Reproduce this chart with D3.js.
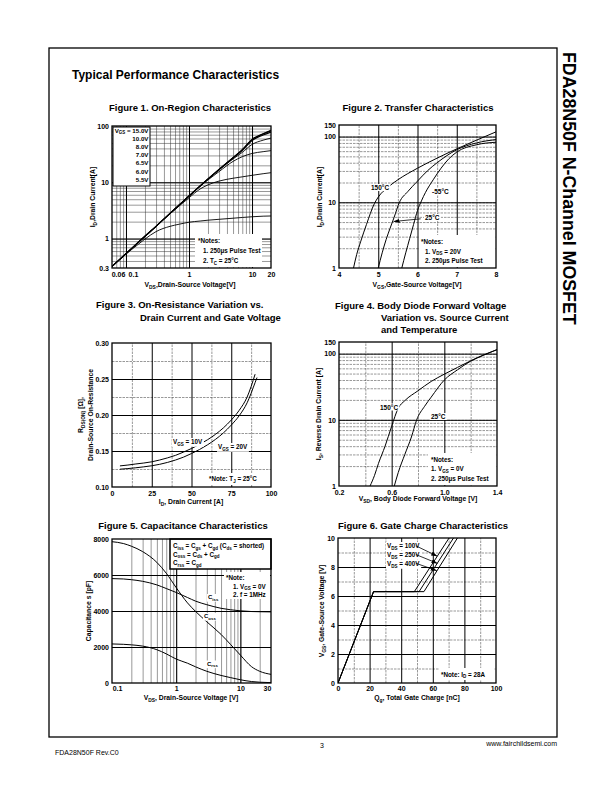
<!DOCTYPE html>
<html><head><meta charset="utf-8">
<script src="https://cdn.jsdelivr.net/npm/d3@7"></script>
<style>body{margin:0;background:#fff} svg{display:block}</style>
</head><body><svg id="c" width="612" height="792"></svg>
<script>
// ================= DATA =================
// Figure 1 – On-Region Characteristics (log-log)
const fig1Vds   = [0.06,0.1,0.15,0.2,0.3,0.5,0.7,1,1.5,2,3,5,7,10,15,20];
const fig1Id15  = [0.32,0.54,0.82,1.1,1.65,2.8,3.95,5.7,8.6,11.5,17,27.5,38,58,73,84];
const fig1Id10  = [0.32,0.54,0.82,1.1,1.65,2.8,3.95,5.7,8.6,11.5,17,27.3,37.5,57,72,82];
const fig1Id8   = [0.32,0.54,0.82,1.1,1.65,2.8,3.95,5.7,8.6,11.4,16.8,27,37,55,69,78];
const fig1Id7   = [0.32,0.54,0.82,1.1,1.65,2.8,3.95,5.7,8.6,11.4,16.6,26,34,47,56,61];
const fig1Id65  = [0.32,0.54,0.82,1.1,1.65,2.8,3.95,5.7,8.5,11.0,15.5,23.5,28.5,32.5,35,36.5];
const fig1Id6   = [0.32,0.54,0.82,1.1,1.65,2.75,3.8,5.3,7.6,9.0,10.5,11.8,12.5,13.3,14.2,14.8];
const fig1Id55  = [0.32,0.53,0.76,0.98,1.33,1.65,1.8,1.95,2.05,2.12,2.2,2.3,2.37,2.44,2.5,2.52];
const fig1Legend = ["15.0V","10.0V","8.0V","7.0V","6.5V","6.0V","5.5V"];
const fig1XTicks = [0.06,0.1,1,10,20];
const fig1YTicks = [0.3,1,10,100];

// Figure 2 – Transfer Characteristics
const fig2Vgs150 = [4.37,4.45,4.55,4.7,4.9,5.0,5.25,5.5,6,6.5,7,7.5,8];
const fig2Id150  = [1,1.6,2.5,4.6,9.5,12,17,22,33,47,65,88,118];
const fig2Vgs25  = [5.0,5.1,5.2,5.3,5.4,5.54,5.75,6,6.25,6.5,7,7.5,8];
const fig2Id25   = [1,1.7,2.7,4,5.8,10,14.5,21,30,40,63,80,90];
const fig2VgsM55 = [5.6,5.7,5.8,5.9,6.0,6.1,6.2,6.4,6.6,6.8,7.0,7.5,8];
const fig2IdM55  = [1,1.7,2.8,4.6,7.5,10.5,14,22,33,46,58,75,82];
const fig2XTicks = [4,5,6,7,8];
const fig2YTicks = [1,10,100,150];

// Figure 3 – On-Resistance vs Drain Current
const fig3Id10 = [5,10,15,20,25,30,35,40,45,50,55,60,65,70,75,80,85,90];
const fig3R10  = [0.1293,0.1305,0.132,0.1333,0.135,0.1375,0.1405,0.144,0.1485,0.1535,0.159,0.1655,0.173,0.182,0.193,0.2065,0.225,0.2567];
const fig3Id20 = [5,10,15,20,25,30,35,40,45,50,55,60,65,70,75,80,85,90,91.2];
const fig3R20  = [0.1247,0.1256,0.1267,0.128,0.1295,0.1315,0.1342,0.1375,0.1415,0.1465,0.152,0.1585,0.166,0.175,0.186,0.199,0.217,0.245,0.252];
const fig3XTicks = [0,25,50,75,100];
const fig3YTicks = [0.10,0.15,0.20,0.25,0.30];

// Figure 4 – Body Diode Forward Voltage
const fig4Vsd150 = [0.436,0.47,0.5,0.55,0.6,0.65,0.7,0.8,0.9,1.0,1.1,1.2,1.3,1.4];
const fig4Is150  = [1,1.45,2.2,4,8,15,19.5,27.5,38,49,62,78,96,115];
const fig4Vsd25  = [0.62,0.65,0.7,0.75,0.79,0.85,0.9,1.0,1.1,1.2,1.3,1.4];
const fig4Is25   = [1,1.6,3,5.5,10,16,22,40,57,77,95,115];
const fig4XTicks = [0.2,0.6,1.0,1.4];
const fig4YTicks = [1,10,100,150];

// Figure 5 – Capacitance Characteristics
const fig5Vds  = [0.1,0.15,0.2,0.3,0.5,0.7,1,1.5,2,3,5,7,10,15,20,30];
const fig5Ciss = [5800,5780,5740,5650,5450,5250,5030,4750,4550,4350,4150,4070,4010,3970,3960,3950];
const fig5Coss = [7850,7750,7600,7300,6700,6100,5300,4450,3980,3400,2700,2150,1550,900,650,480];
const fig5Crss = [2170,2150,2120,2050,1850,1620,1330,1100,900,650,420,300,180,80,45,20];
const fig5XTicks = [0.1,1,10,30];
const fig5YTicks = [0,2000,4000,6000,8000];

// Figure 6 – Gate Charge Characteristics
const fig6Qg100 = [0,22.5,48.3,70.3];
const fig6Qg250 = [0,22.5,51.3,73.1];
const fig6Qg400 = [0,22.5,54.4,75.6];
const fig6Vgs   = [0,6.3,6.3,10];
const fig6XTicks = [0,20,40,60,80,100];
const fig6YTicks = [0,2,4,6,8,10];

// ================= DRAWING =================
const FONT = '"Liberation Sans", Arial, Helvetica, sans-serif';
const svg = d3.select('#c');
const defs = svg.append('defs');
defs.append('marker').attr('id','arr').attr('viewBox','0 0 10 10')
  .attr('refX',10).attr('refY',5).attr('markerWidth',6).attr('markerHeight',6)
  .attr('markerUnits','userSpaceOnUse').attr('orient','auto')
  .append('path').attr('d','M0,1.5L10,5L0,8.5z').attr('fill','#000');

const zip = (a,b) => a.map((v,i)=>[v,b[i]]);
const logMinor = (lo, hi) => {
  const out=[]; for (let e=-3;e<=3;e++) for (let m=1;m<10;m++){const v=m*Math.pow(10,e); if(v>lo*1.0001 && v<hi*0.9999) out.push(+v.toPrecision(3));}
  return out;
};

function rich(t, str, fs) {
  const parts = str.split(/(_\{[^}]*\})/).filter(s=>s.length);
  let prevSub=false;
  parts.forEach(p=>{
    const isSub = p.startsWith('_{');
    const s = t.append('tspan').text(isSub ? p.slice(2,-1) : p);
    if (isSub) { s.attr('font-size', fs*0.72).attr('dy', fs*0.28); prevSub=true; }
    else if (prevSub) { s.attr('dy', -fs*0.28); prevSub=false; }
  });
  return t;
}
function txt(g, x, y, str, fs, o={}) {
  const t = g.append('text').attr('x',x).attr('y',y).attr('font-size',fs)
    .attr('font-family',FONT).attr('font-weight', o.weight||'bold')
    .attr('text-anchor', o.anchor||'start').attr('fill','#000');
  if (o.rotate) t.attr('transform',`rotate(${o.rotate},${x},${y})`);
  rich(t, str, fs);
  if (o.bg) {
    const b = t.node().getBBox();
    g.insert('rect', () => t.node()).attr('x',b.x-1).attr('y',b.y).attr('width',b.width+2).attr('height',b.height).attr('fill','#fff');
  }
  return t;
}

function chart(box, xs, ys, id) {
  const g = svg.append('g');
  const x = xs.range([box.l, box.r]);
  const y = ys.range([box.b, box.t]);
  defs.append('clipPath').attr('id',id).append('rect')
    .attr('x',box.l).attr('y',box.t).attr('width',box.r-box.l).attr('height',box.b-box.t);
  return {g,x,y,box,id};
}
function grid(c, xv, yv, w, dash, col) {
  const {g,x,y,box} = c;
  const style = a => { a.select('.domain').remove();
    a.selectAll('line').attr('stroke',col||'#000').attr('stroke-width',w).attr('stroke-dasharray',dash||null); };
  if (xv && xv.length) {
    style(g.append('g').attr('transform',`translate(0,${box.b})`)
      .call(d3.axisBottom(x).tickValues(xv).tickSize(-(box.b-box.t)).tickFormat('')));
  }
  if (yv && yv.length) {
    style(g.append('g').attr('transform',`translate(${box.l},0)`)
      .call(d3.axisLeft(y).tickValues(yv).tickSize(-(box.r-box.l)).tickFormat('')));
  }
}
function frame(c) {
  const {g,box}=c;
  g.append('rect').attr('x',box.l).attr('y',box.t).attr('width',box.r-box.l).attr('height',box.b-box.t)
    .attr('fill','none').attr('stroke','#000').attr('stroke-width',1.3);
}
function ticks(c, xv, xf, yv, yf, xpad=4, xShift={}) {
  const {g,x,y,box}=c;
  const ax = g.append('g').attr('transform',`translate(0,${box.b})`)
    .call(d3.axisBottom(x).tickValues(xv).tickSize(0).tickPadding(xpad).tickFormat(xf));
  ax.select('.domain').remove();
  ax.attr('font-size',7).attr('font-family',FONT).attr('font-weight','bold');
  ax.selectAll('text').attr('fill','#000').attr('dx', d => xShift[d] || 0);
  const ay = g.append('g').attr('transform',`translate(${box.l},0)`)
    .call(d3.axisLeft(y).tickValues(yv).tickSize(0).tickPadding(3).tickFormat(yf));
  ay.select('.domain').remove();
  ay.attr('font-size',7).attr('font-family',FONT).attr('font-weight','bold');
  ay.selectAll('text').attr('fill','#000');
}
function curve(c, pts, w=1, interp=d3.curveMonotoneX) {
  const {g,x,y,id}=c;
  g.append('path').attr('d', d3.line().x(d=>x(d[0])).y(d=>y(d[1])).curve(interp)(pts))
    .attr('fill','none').attr('stroke','#000').attr('stroke-width',w).attr('clip-path',`url(#${id})`);
}
function notes(g, x0, y0, x1, y1, lines) {
  g.append('rect').attr('x',x0).attr('y',y0).attr('width',x1-x0).attr('height',y1-y0).attr('fill','#fff');
  lines.forEach(l => txt(g, l[0], l[1], l[2], 6.3));
}
function arrow(c, p0, p1) {
  const {g,x,y}=c;
  g.append('line').attr('x1',x(p0[0])).attr('y1',y(p0[1])).attr('x2',x(p1[0])).attr('y2',y(p1[1]))
    .attr('stroke','#000').attr('stroke-width',0.8).attr('marker-end','url(#arr)');
}
const MINW = 0.5, MINC = '#333', MAJW = 1.0;

// ---------- page ----------
svg.append('rect').attr('x',49).attr('y',48).attr('width',508).attr('height',689)
  .attr('fill','none').attr('stroke','#000').attr('stroke-width',1.3);
txt(svg, 72, 79, 'Typical Performance Characteristics', 12);
txt(svg, 563, 52, 'FDA28N50F N-Channel MOSFET', 17.8, {rotate:90});
txt(svg, 55, 755, 'FDA28N50F Rev.C0', 7, {weight:'normal'});
txt(svg, 322, 748, '3', 7, {weight:'normal', anchor:'middle'});
txt(svg, 557, 746, 'www.fairchildsemi.com', 7, {weight:'normal', anchor:'end'});

// ---------- Figure 1 ----------
{
  const c = chart({l:112,r:271,t:126,b:268}, d3.scaleLog().domain([0.06,20]), d3.scaleLog().domain([0.3,100]), 'c1');
  txt(svg, 190, 111, 'Figure 1. On-Region Characteristics', 9.5, {anchor:'middle'});
  grid(c, logMinor(0.06,20), logMinor(0.3,100), MINW, null, MINC);
  grid(c, [0.1,1,10], [1,10], MAJW);
  [fig1Id55, fig1Id6, fig1Id65, fig1Id7].forEach(a => curve(c, zip(fig1Vds,a), 0.9));
  [fig1Id8, fig1Id10, fig1Id15].forEach(a => curve(c, zip(fig1Vds,a), 1.1));
  c.g.append('rect').attr('x',113).attr('y',127).attr('width',37).attr('height',59).attr('fill','#fff').attr('stroke','#000').attr('stroke-width',1);
  fig1Legend.forEach((s,i) => txt(c.g, 148.5, 132.5 + i*8.2, (i===0?'V_{GS} = ':'') + s, 6.2, {anchor:'end'}));
  notes(c.g, 195, 234, 262, 267, [[198,243,'*Notes:'],[203,252.5,'1. 250\u03bcs Pulse Test'],[203,263,'2. T_{C} = 25\u00b0C']]);
  frame(c);
  ticks(c, fig1XTicks, d=>String(d), fig1YTicks, d=>String(d), 4, {0.06:6, 0.1:7});
  txt(svg, 190, 287, 'V_{DS},Drain-Source Voltage[V]', 6.8, {anchor:'middle'});
  txt(svg, 95, 197, 'I_{D},Drain Current[A]', 6.8, {anchor:'middle', rotate:-90});
}

// ---------- Figure 2 ----------
{
  const c = chart({l:339,r:496,t:125,b:268}, d3.scaleLinear().domain([4,8]), d3.scaleLog().domain([1,150]), 'c2');
  txt(svg, 418, 111, 'Figure 2. Transfer Characteristics', 9.5, {anchor:'middle'});
  grid(c, [4.5,5.5,6.5,7.5], logMinor(1,150), MINW, '2.5,1', MINC);
  grid(c, [5,6,7], [10,100], MAJW);
  curve(c, zip(fig2Vgs150, fig2Id150));
  curve(c, zip(fig2Vgs25, fig2Id25));
  curve(c, zip(fig2VgsM55, fig2IdM55));
  txt(c.g, 371, 190, '150\u00b0C', 6.5, {bg:true});
  txt(c.g, 432, 194, '-55\u00b0C', 6.5, {bg:true});
  txt(c.g, 425, 220, '25\u00b0C', 6.5, {bg:true});
  arrow(c, [6.08, 5.6], [5.39, 5.1]);
  notes(c.g, 419, 235, 495, 267, [[421,244,'*Notes:'],[425,253.5,'1. V_{DS} = 20V'],[425,263,'2. 250\u03bcs Pulse Test']]);
  frame(c);
  ticks(c, fig2XTicks, d=>String(d), fig2YTicks, d=>String(d), 4);
  txt(svg, 417, 287, 'V_{GS},Gate-Source Voltage[V]', 6.8, {anchor:'middle'});
  txt(svg, 322, 197, 'I_{D},Drain Current[A]', 6.8, {anchor:'middle', rotate:-90});
}

// ---------- Figure 3 ----------
{
  const c = chart({l:112,r:271,t:343,b:487}, d3.scaleLinear().domain([0,100]), d3.scaleLinear().domain([0.10,0.30]), 'c3');
  txt(svg, 96, 307.5, 'Figure 3. On-Resistance Variation vs.', 9.5);
  txt(svg, 140, 320.5, 'Drain Current and Gate Voltage', 9.5);
  grid(c, [12.5,37.5,62.5,87.5], [0.125,0.175,0.225,0.275], MINW, '2.5,1', MINC);
  grid(c, [25,50,75], [0.15,0.20,0.25], MAJW);
  curve(c, zip(fig3Id10, fig3R10));
  curve(c, zip(fig3Id20, fig3R20));
  txt(c.g, 173, 444, 'V_{GS} = 10V', 6.3, {bg:true});
  txt(c.g, 218, 449, 'V_{GS} = 20V', 6.3, {bg:true});
  notes(c.g, 206, 473, 269, 485, [[209,481,'*Note: T_{J} = 25\u00b0C']]);
  frame(c);
  ticks(c, fig3XTicks, d=>String(d), fig3YTicks, d3.format('.2f'), 4);
  txt(svg, 191, 504, 'I_{D}, Drain Current [A]', 6.8, {anchor:'middle'});
  txt(svg, 83, 415, 'R_{DS(ON)} [\u03a9],', 6.8, {anchor:'middle', rotate:-90});
  txt(svg, 93, 415, 'Drain-Source On-Resistance', 6.8, {anchor:'middle', rotate:-90});
}

// ---------- Figure 4 ----------
{
  const c = chart({l:339,r:497,t:342,b:486}, d3.scaleLinear().domain([0.2,1.4]), d3.scaleLog().domain([1,150]), 'c4');
  txt(svg, 335, 308.5, 'Figure 4. Body Diode Forward Voltage', 9.5);
  txt(svg, 381, 320.5, 'Variation vs. Source Current', 9.5);
  txt(svg, 381, 332.5, 'and Temperature', 9.5);
  grid(c, [0.4,0.8,1.2], logMinor(1,150), MINW, '2.5,1', MINC);
  grid(c, [0.6,1.0], [10,100], MAJW);
  curve(c, zip(fig4Vsd150, fig4Is150));
  curve(c, zip(fig4Vsd25, fig4Is25));
  txt(c.g, 380, 409.5, '150\u00b0C', 6.5, {bg:true});
  txt(c.g, 431, 419, '25\u00b0C', 6.5, {bg:true});
  notes(c.g, 428, 453, 496, 485, [[431,461.5,'*Notes:'],[431,471,'1. V_{GS} = 0V'],[431,481,'2. 250\u03bcs Pulse Test']]);
  frame(c);
  ticks(c, fig4XTicks, d3.format('.1f'), fig4YTicks, d=>String(d), 4);
  txt(svg, 418, 501, 'V_{SD}, Body Diode Forward Voltage [V]', 6.8, {anchor:'middle'});
  txt(svg, 321, 414, 'I_{S}, Reverse Drain Current [A]', 6.8, {anchor:'middle', rotate:-90});
}

// ---------- Figure 5 ----------
{
  const c = chart({l:112,r:271,t:539,b:683}, d3.scaleLog().domain([0.1,30]), d3.scaleLinear().domain([0,8000]), 'c5');
  txt(svg, 183, 528.5, 'Figure 5. Capacitance Characteristics', 9.5, {anchor:'middle'});
  grid(c, logMinor(0.1,30), [], MINW, null, MINC);
  grid(c, [1,10], [2000,4000,6000], MAJW);
  curve(c, zip(fig5Vds, fig5Ciss));
  curve(c, zip(fig5Vds, fig5Coss));
  curve(c, zip(fig5Vds, fig5Crss));
  c.g.append('rect').attr('x',170).attr('y',539).attr('width',101).attr('height',30).attr('fill','#fff').attr('stroke','#000').attr('stroke-width',1.5);
  txt(c.g, 173, 548, 'C_{iss} = C_{gs} + C_{gd} (C_{ds} = shorted)', 6.3);
  txt(c.g, 173, 556.5, 'C_{oss} = C_{ds} + C_{gd}', 6.3);
  txt(c.g, 173, 565, 'C_{rss} = C_{gd}', 6.3);
  notes(c.g, 224, 572, 270, 599, [[226,579.5,'*Note:'],[233,588.5,'1. V_{GS} = 0V'],[233,597,'2. f = 1MHz']]);
  txt(c.g, 208, 599, 'C_{iss}', 6, {bg:true});
  txt(c.g, 204, 618, 'C_{oss}', 6, {bg:true});
  txt(c.g, 207, 665.5, 'C_{rss}', 6, {bg:true});
  frame(c);
  ticks(c, fig5XTicks, d=>String(d), fig5YTicks, d=>String(d), 3, {0.1:5, 30:-4});
  txt(svg, 191, 700, 'V_{DS}, Drain-Source Voltage [V]', 6.8, {anchor:'middle'});
  txt(svg, 91, 611, 'Capacitance s [pF]', 6.8, {anchor:'middle', rotate:-90});
}

// ---------- Figure 6 ----------
{
  const c = chart({l:338,r:496,t:538,b:683}, d3.scaleLinear().domain([0,100]), d3.scaleLinear().domain([0,10]), 'c6');
  txt(svg, 423, 528.5, 'Figure 6. Gate Charge Characteristics', 9.5, {anchor:'middle'});
  grid(c, [10,30,50,70,90], [1,3,5,7,9], MINW, '2.5,1', MINC);
  grid(c, [20,40,60,80], [2,4,6,8], MAJW);
  curve(c, zip(fig6Qg100, fig6Vgs), 1, d3.curveLinear);
  curve(c, zip(fig6Qg250, fig6Vgs), 1, d3.curveLinear);
  curve(c, zip(fig6Qg400, fig6Vgs), 1, d3.curveLinear);
  txt(c.g, 387, 548, 'V_{DS} = 100V', 6.3, {bg:true});
  txt(c.g, 387, 557, 'V_{DS} = 250V', 6.3, {bg:true});
  txt(c.g, 387, 566, 'V_{DS} = 400V', 6.3, {bg:true});
  arrow(c, [49.5, 9.45], [62.8, 8.75]);
  arrow(c, [49.5, 8.85], [63.0, 8.25]);
  arrow(c, [49.5, 8.25], [62.5, 7.75]);
  notes(c.g, 439, 668, 494, 680, [[441,676.5,'*Note: I_{D} = 28A']]);
  frame(c);
  ticks(c, fig6XTicks, d=>String(d), fig6YTicks, d=>String(d), 3);
  txt(svg, 417, 700, 'Q_{g}, Total Gate Charge [nC]', 6.8, {anchor:'middle'});
  txt(svg, 324, 611, 'V_{GS}, Gate-Source Voltage [V]', 6.8, {anchor:'middle', rotate:-90});
}
</script></body></html>
